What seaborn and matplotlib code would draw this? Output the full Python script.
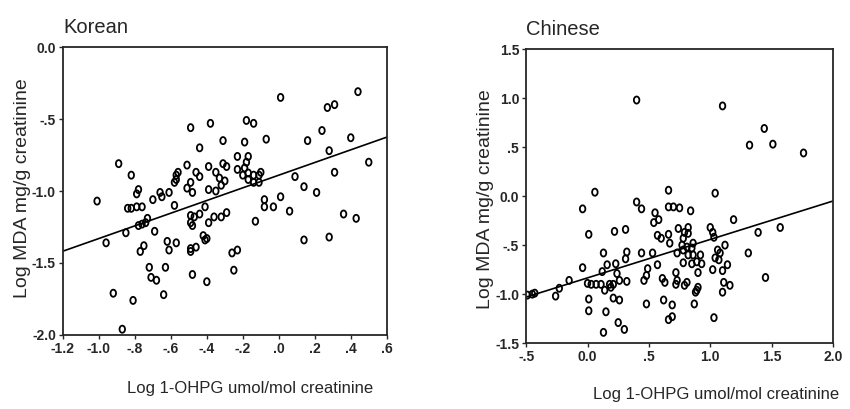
import matplotlib
matplotlib.use('Agg')
import matplotlib.pyplot as plt
from matplotlib.path import Path
import numpy as np
import pandas as pd
import seaborn as sns

# Data
kor_x = [0.01, 0.44, 0.27, 0.31, -0.49, -0.38, -0.18, -0.14, -0.31, -0.19,
         -0.07, 0.16, 0.24, 0.40, -0.44, -0.89, -0.82, -0.51, -0.39, -0.31,
         -0.29, -0.46, -0.44, -0.56, -0.57, -0.57, -0.58, -0.35, -0.33, -0.30,
         -0.32, -0.49, -0.51, -0.48, -0.39, -0.35, -0.78, -0.79, -0.66, -0.65,
         -0.61, -0.70, -1.01, -0.23, -0.17, -0.18, -0.19, -0.23, -0.20, -0.17,
         -0.14, -0.10, -0.11, -0.17, -0.14, -0.11, 0.28, 0.50, 0.31, 0.09,
         0.14, 0.21, -0.08, 0.01, -0.84, -0.82, -0.79, -0.76, -0.58, -0.41,
         -0.49, -0.47, -0.44, -0.49, -0.48, -0.39, -0.36, -0.32, -0.29, -0.73,
         -0.74, -0.76, -0.78, -0.85, -0.69, -0.42, -0.40, -0.41, -0.96, -0.75,
         -0.77, -0.62, -0.61, -0.57, -0.49, -0.49, -0.46, -0.72, -0.71, -0.68,
         -0.63, -0.48, -0.40, -0.92, -0.81, -0.64, -0.87, -0.13, -0.08, -0.03,
         0.06, 0.36, 0.43, 0.14, 0.28, -0.26, -0.23, -0.25]
kor_y = [-0.35, -0.31, -0.42, -0.40, -0.56, -0.53, -0.51, -0.53, -0.65, -0.66,
         -0.64, -0.65, -0.58, -0.63, -0.70, -0.81, -0.89, -0.82, -0.83, -0.81,
         -0.83, -0.87, -0.90, -0.87, -0.89, -0.92, -0.94, -0.87, -0.91, -0.93,
         -0.96, -0.94, -0.98, -1.01, -0.99, -1.00, -0.99, -1.02, -1.01, -1.04,
         -1.01, -1.06, -1.07, -0.76, -0.76, -0.80, -0.84, -0.85, -0.89, -0.875,
         -0.89, -0.87, -0.89, -0.92, -0.94, -0.94, -0.72, -0.80, -0.87, -0.90,
         -0.97, -1.01, -1.06, -1.04, -1.12, -1.12, -1.11, -1.11, -1.10, -1.11,
         -1.17, -1.18, -1.16, -1.22, -1.24, -1.22, -1.18, -1.18, -1.15, -1.19,
         -1.22, -1.23, -1.24, -1.29, -1.28, -1.31, -1.33, -1.34, -1.36, -1.38,
         -1.42, -1.35, -1.41, -1.36, -1.40, -1.42, -1.39, -1.53, -1.60, -1.62,
         -1.53, -1.58, -1.63, -1.71, -1.76, -1.72, -1.96, -1.21, -1.11, -1.11,
         -1.14, -1.16, -1.19, -1.34, -1.32, -1.43, -1.41, -1.55]

chn_x = [0.40, 1.10, 1.44, 1.32, 1.51, 1.76, 0.06, 0.66, 1.04, -0.04,
         0.40, 0.44, 0.66, 0.70, 0.75, 0.84, 0.55, 0.58, 0.54, 1.19,
         0.01, 0.22, 0.31, 0.74, 0.79, 0.82, 0.82, 0.78, 0.57, 0.60,
         0.66, 0.67, 1.00, 1.02, 1.03, 1.39, 1.57, 0.13, 0.32, 0.31,
         0.44, 0.53, 0.73, 1.12, 1.06, 1.08, 1.04, 1.07, 1.31, 0.77,
         0.78, 0.81, 0.86, 0.85, 0.82, 0.86, 0.92, 0.89, 0.93, 0.85,
         0.78, -0.04, 0.16, 0.12, 0.23, 0.24, 0.26, 0.32, 0.49, 0.48,
         0.46, 0.57, 0.61, 0.63, 0.72, 0.73, 0.72, -0.15, -0.23, -0.26,
         -0.49, -0.45, -0.43, 0.00, 0.03, 0.07, 0.11, 0.18, 0.21, 0.14,
         0.19, 0.21, 0.26, 0.01, 0.48, 0.62, 0.69, 0.01, 0.15, 0.69,
         0.66, 0.25, 0.30, 0.13, 1.14, 1.10, 1.02, 0.90, 1.45, 0.81,
         0.79, 1.11, 1.16, 1.10, 0.90, 0.89, 0.88, 0.87, 1.03]
chn_y = [0.98, 0.92, 0.69, 0.52, 0.53, 0.44, 0.04, 0.06, 0.03, -0.13,
         -0.06, -0.13, -0.11, -0.11, -0.12, -0.15, -0.17, -0.24, -0.27, -0.24,
         -0.39, -0.36, -0.34, -0.33, -0.37, -0.32, -0.38, -0.43, -0.40, -0.43,
         -0.39, -0.48, -0.32, -0.37, -0.42, -0.37, -0.32, -0.58, -0.57, -0.64,
         -0.58, -0.58, -0.58, -0.50, -0.55, -0.58, -0.63, -0.65, -0.58, -0.50,
         -0.55, -0.52, -0.48, -0.53, -0.60, -0.60, -0.60, -0.67, -0.69, -0.69,
         -0.68, -0.73, -0.70, -0.77, -0.69, -0.79, -0.86, -0.87, -0.74, -0.81,
         -0.86, -0.70, -0.84, -0.88, -0.78, -0.86, -0.90, -0.86, -0.94, -1.02,
         -1.01, -1.00, -0.99, -0.89, -0.90, -0.90, -0.90, -0.90, -0.90, -0.96,
         -0.93, -1.04, -1.06, -1.05, -1.10, -1.06, -1.11, -1.17, -1.18, -1.23,
         -1.26, -1.29, -1.36, -1.39, -0.70, -0.76, -0.75, -0.78, -0.83, -0.88,
         -0.91, -0.88, -0.91, -0.98, -0.93, -0.96, -0.98, -1.10, -1.24]

# fitted lines as printed (intercept, slope)
kor_fit = (-0.89, 0.44)
chn_fit = (-0.834, 0.392)

kor_xticks = [-1.2, -1.0, -0.8, -0.6, -0.4, -0.2, 0.0, 0.2, 0.4, 0.6]
kor_xlabels = ['-1.2', '-1.0', '-.8', '-.6', '-.4', '-.2', '.0', '.2', '.4', '.6']
kor_yticks = [0.0, -0.5, -1.0, -1.5, -2.0]
kor_ylabels = ['0.0', '-.5', '-1.0', '-1.5', '-2.0']

chn_xticks = [-0.5, 0.0, 0.5, 1.0, 1.5, 2.0]
chn_xlabels = ['-.5', '0.0', '.5', '1.0', '1.5', '2.0']
chn_yticks = [1.5, 1.0, 0.5, 0.0, -0.5, -1.0, -1.5]
chn_ylabels = ['1.5', '1.0', '.5', '0.0', '-.5', '-1.0', '-1.5']

XLABEL = 'Log 1-OHPG umol/mol creatinine'
YLABEL = 'Log MDA mg/g creatinine'

sns.set_style('ticks')
plt.rcParams['font.family'] = ['Liberation Sans', 'DejaVu Sans']

# the printed symbol is a slightly tall "0", so use an upright ellipse
t = np.linspace(0, 2 * np.pi, 40)
oval = Path(np.column_stack([0.78 * np.cos(t), np.sin(t)]), closed=True)

fig = plt.figure(figsize=(8.5, 4.09), dpi=100)
ax1 = fig.add_axes([0.074, 0.181, 0.381, 0.704])
ax2 = fig.add_axes([0.619, 0.161, 0.361, 0.719])


def panel(ax, xs, ys, fit, xlim, ylim, xt, xl, yt, yl, title, xlab_pos, ylab_pos):
    df = pd.DataFrame({'x': xs, 'y': ys})
    sns.scatterplot(data=df, x='x', y='y', ax=ax, marker=oval, s=26,
                    facecolor='none', edgecolor='black', linewidth=1.3)
    line_x = np.array(xlim)
    line = pd.DataFrame({'x': line_x, 'y': fit[0] + fit[1] * line_x})
    sns.lineplot(data=line, x='x', y='y', ax=ax, color='black', linewidth=1.2)
    ax.set_xlim(*xlim)
    ax.set_ylim(*ylim)
    ax.set_xticks(xt)
    ax.set_xticklabels(xl)
    ax.set_yticks(yt)
    ax.set_yticklabels(yl)
    ax.tick_params(length=3, width=1, labelsize=10, pad=2)
    for lab in ax.get_xticklabels() + ax.get_yticklabels():
        lab.set_fontweight('bold')
    for sp in ax.spines.values():
        sp.set_visible(True)
        sp.set_linewidth(1.3)
    ax.set_title(title, loc='left', fontsize=14.5, pad=10)
    ax.set_xlabel(XLABEL, fontsize=12)
    ax.set_ylabel(YLABEL, fontsize=14)
    ax.xaxis.set_label_coords(*xlab_pos)
    ax.yaxis.set_label_coords(*ylab_pos)


panel(ax1, kor_x, kor_y, kor_fit, (-1.2, 0.6), (-2.0, 0.0),
      kor_xticks, kor_xlabels, kor_yticks, kor_ylabels, 'Korean',
      (0.577, -0.16), (-0.10, 0.51))
panel(ax2, chn_x, chn_y, chn_fit, (-0.5, 2.0), (-1.5, 1.5),
      chn_xticks, chn_xlabels, chn_yticks, chn_ylabels, 'Chinese',
      (0.62, -0.15), (-0.105, 0.49))

plt.savefig('out.png', dpi=100)
